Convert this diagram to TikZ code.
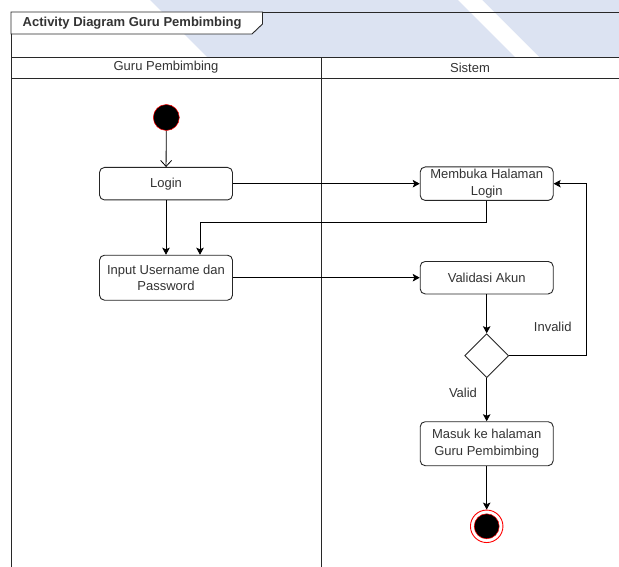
\documentclass[tikz,border=0pt]{standalone}
\usepackage{fontspec}
\setmainfont{Liberation Sans}
\usetikzlibrary{arrows.meta,shapes.geometric}
\definecolor{wmark}{RGB}{220,227,242}
\definecolor{ink}{RGB}{51,51,51}
\definecolor{lane}{RGB}{40,40,40}

\begin{document}
\begin{tikzpicture}[x=1pt,y=-1pt,
  txt/.style={text=ink, font=\fontsize{13}{16.5}\selectfont},
  act/.style={txt, draw=black!85, line width=0.9pt, rounded corners=5pt, fill=white,
    minimum width=133pt, align=center, inner sep=0pt},
  flow/.style={draw=black, line width=0.9pt, -{Stealth[length=7pt,width=7.5pt,inset=1.5pt]}},
  openflow/.style={draw=black, line width=0.8pt, -{Straight Barb[length=6pt,width=11pt]}},
  lanebox/.style={draw=lane, line width=0.9pt, fill=white},
  guard/.style={txt, inner sep=0pt}]

\useasboundingbox (0,0) rectangle (619,567);
\clip (0,0) rectangle (619,567);

% page background watermark
\fill[wmark] (150,0) -- (619,0) -- (619,80) -- (230,80) -- cycle;
\fill[white] (458,0) -- (482,0) -- (562,80) -- (538,80) -- cycle;

% frame and title tab
\draw[lane, line width=0.9pt] (11,12) rectangle (640,600);
\draw[lane, line width=0.9pt, fill=white] (11,12) -- (262.5,12) -- (262.5,24) -- (252,34) -- (11,34) -- cycle;
\node[txt, font=\fontsize{13}{16}\selectfont\bfseries, anchor=west, inner sep=0pt] (title) at (22.5,23) {Activity Diagram Guru Pembimbing};

% swimlanes
\draw[lanebox] (11,57) rectangle (321,600);
\draw[lanebox] (321,57) rectangle (640,600);
\draw[lane, line width=0.9pt] (11,78) -- (640,78);
\node[txt] (laneA) at (166,67.5) {Guru Pembimbing};
\node[txt] (laneB) at (470,67.5) {Sistem};

% start node
\node[circle, fill=black, draw=red, line width=0.5pt, minimum size=26pt, inner sep=0pt] (start) at (166.3,117.5) {};

% actions
\node[act, minimum height=32.5pt] (login) at (166,183.7) {Login};
\node[act, minimum height=45pt] (input) at (166,277.7) {Input Username dan\\Password};
\node[act, minimum height=33.5pt] (open) at (486.7,183.7) {Membuka Halaman\\Login};
\node[act, minimum height=32.5pt] (check) at (486.7,277.7) {Validasi Akun};
\node[diamond, aspect=1, draw=black!85, line width=0.9pt, fill=white, minimum size=44pt, inner sep=0pt] (dec) at (486.7,355.7) {};
\node[act, minimum height=44pt] (home) at (486.7,443.7) {Masuk ke halaman\\Guru Pembimbing};

% final node
\node[circle, draw=red, line width=0.9pt, fill=white, minimum size=32.5pt, inner sep=0pt] (end) at (486.7,526.3) {};
\node[circle, draw=red, line width=0.5pt, fill=black, minimum size=25pt, inner sep=0pt] (endcore) at (end.center) {};

% flows
\draw[openflow] (start) -- (login);
\draw[flow] (login) -- (input);
\draw[flow] (login.east) -- (open.west);
\draw[flow] (open.south) -- ++(0,22) -| ([xshift=34pt]input.north);
\draw[flow] (input.east) -- (check.west);
\draw[flow] (check) -- (dec);
\draw[flow] (dec.east) -- ++(77,0) |- (open.east);
\draw[flow] (dec) -- (home);
\draw[flow] (home) -- (end);

% guards
\node[guard] (invalid) at (552.7,326.7) {Invalid};
\node[guard] (valid) at (463,393) {Valid};
\end{tikzpicture}
\end{document}
